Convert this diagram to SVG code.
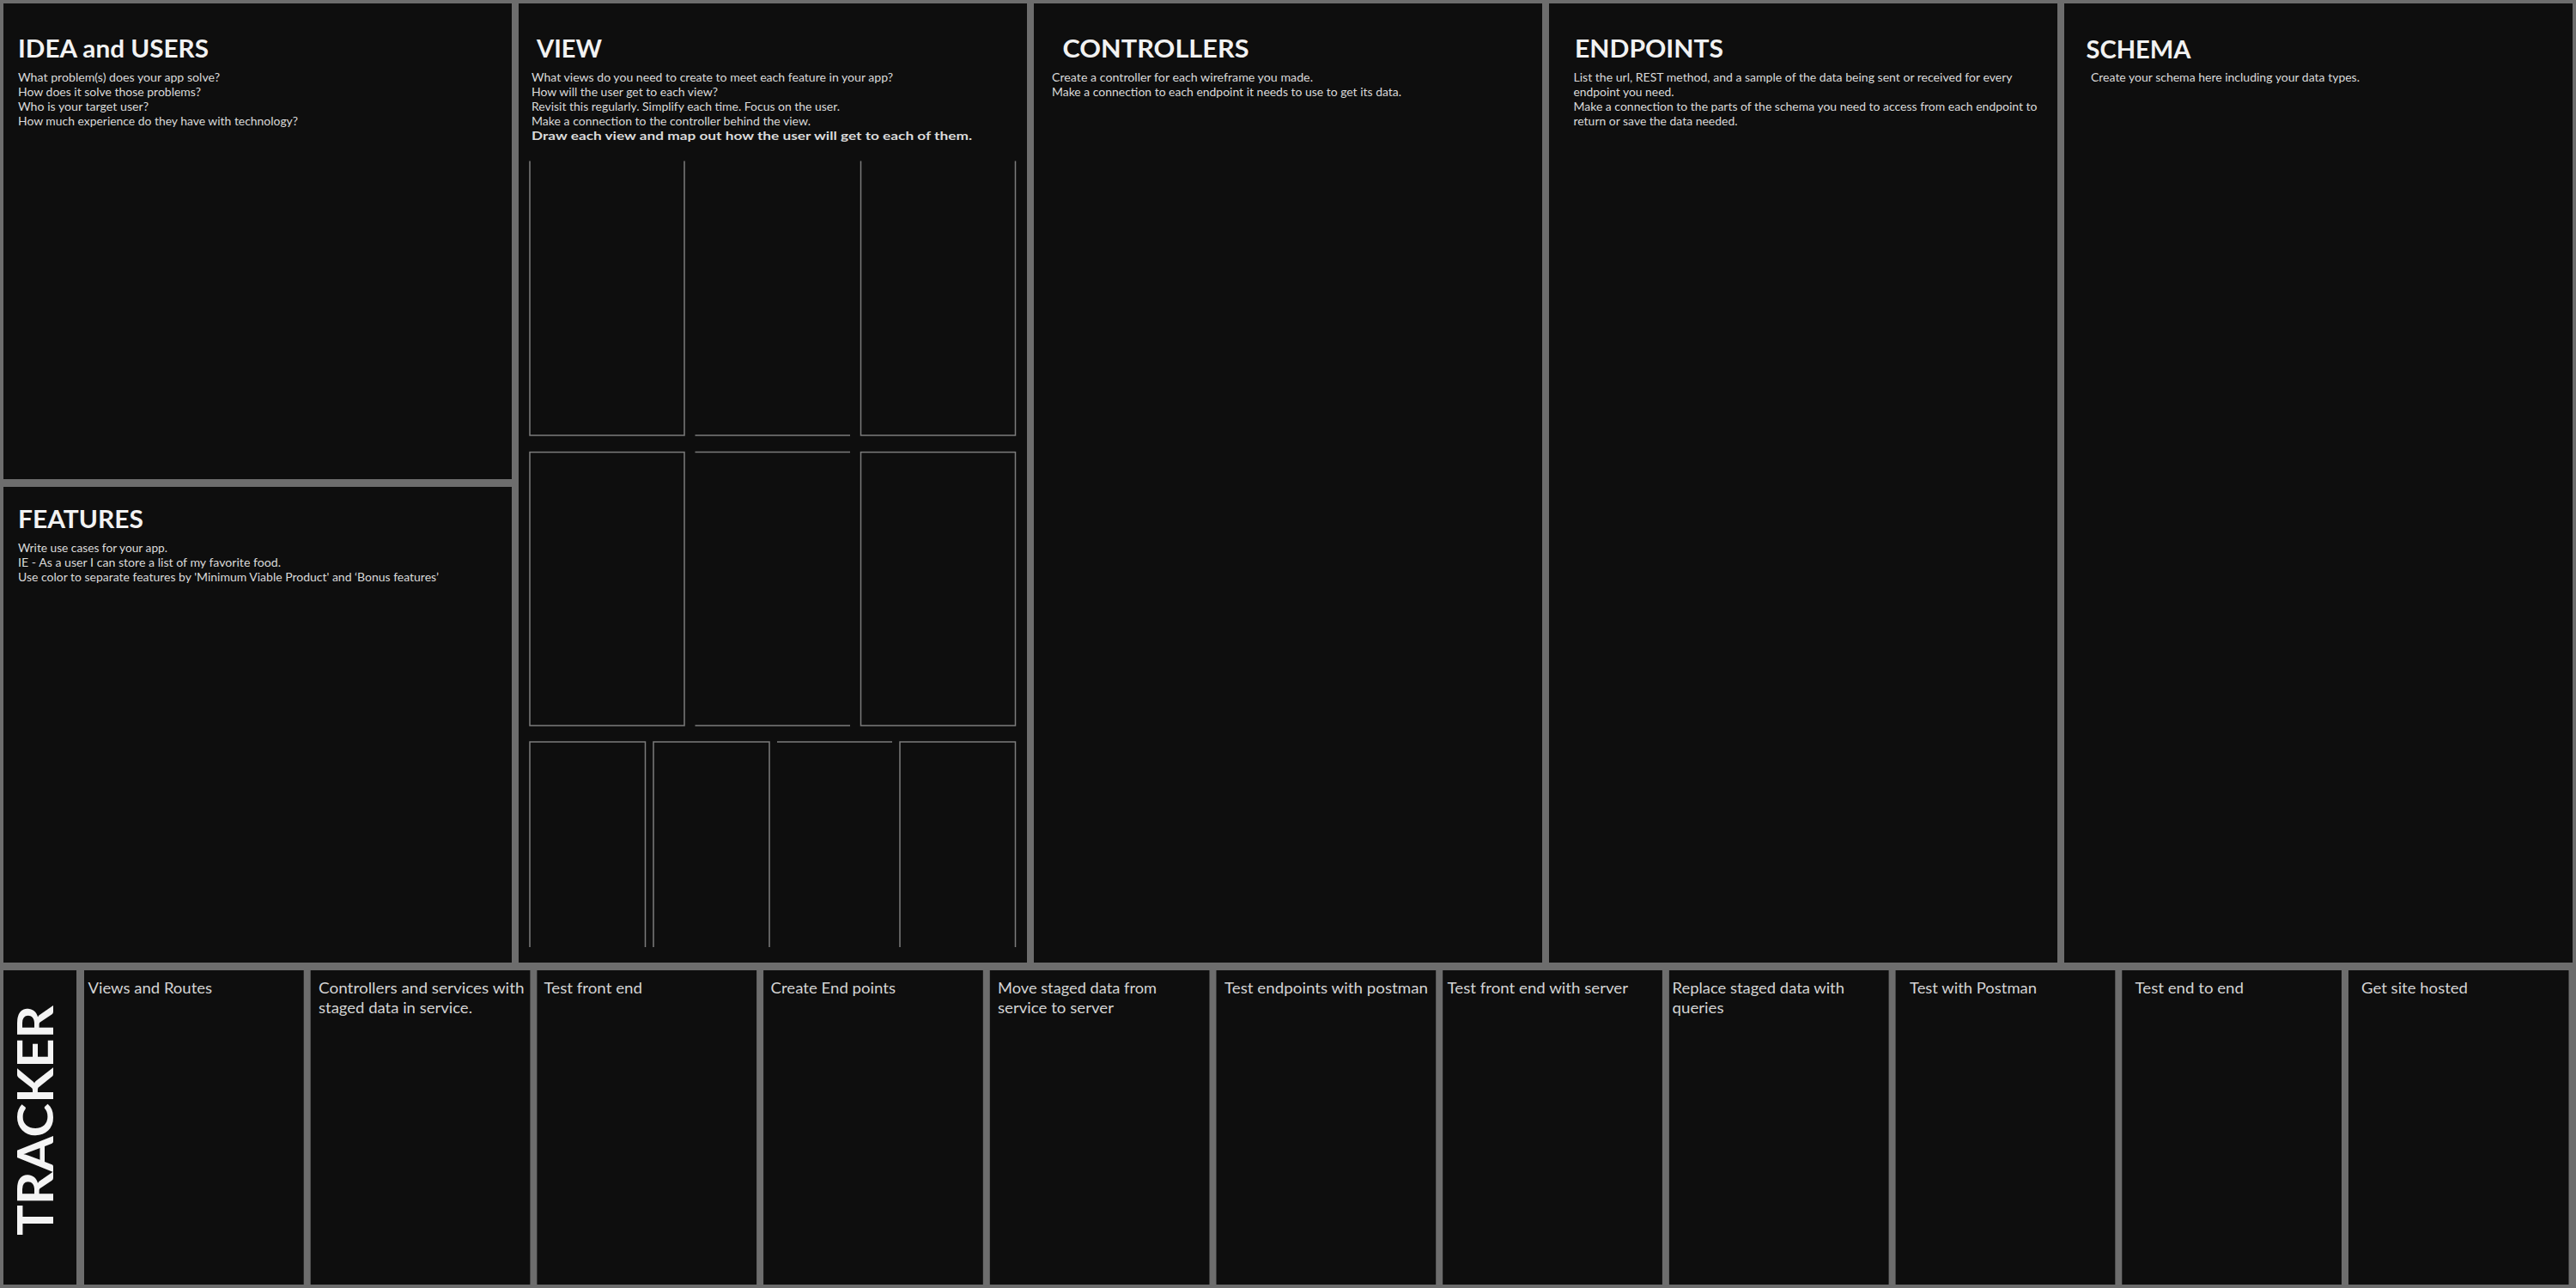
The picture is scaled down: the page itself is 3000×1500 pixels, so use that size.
<svg xmlns="http://www.w3.org/2000/svg" width="3000" height="1500" viewBox="0 0 3000 1500">
<style>
.bg{fill:#6d6d6d}
.panel{fill:#0e0e0e}
.title{font-family:Lato,"Liberation Sans",sans-serif;font-size:29px;font-weight:700;fill:#f2f2f2}
.body{font-family:Lato,"Liberation Sans",sans-serif;font-size:13px;font-weight:400;fill:#dadada}
.bold{font-weight:700}
.lbl{font-family:Lato,"Liberation Sans",sans-serif;font-size:18px;font-weight:400;fill:#d4d4d4}
.tracker{font-family:Lato,"Liberation Sans",sans-serif;font-size:58px;font-weight:700;fill:#f4f4f4}
.wf{fill:none;stroke:#7c7c7c;stroke-width:1.5}
</style>
<rect class="bg" x="0" y="0" width="3000" height="1500"/>

<g id="idea">
<rect class="panel" x="4" y="4" width="592" height="554"/>
<text class="title" x="21" y="67" textLength="222" lengthAdjust="spacingAndGlyphs">IDEA and USERS</text>
<text class="body" x="21" y="94.5" textLength="235" lengthAdjust="spacingAndGlyphs">What problem(s) does your app solve?</text>
<text class="body" x="21" y="111.6" textLength="213" lengthAdjust="spacingAndGlyphs">How does it solve those problems?</text>
<text class="body" x="21" y="128.7" textLength="152" lengthAdjust="spacingAndGlyphs">Who is your target user?</text>
<text class="body" x="21" y="145.8" textLength="326" lengthAdjust="spacingAndGlyphs">How much experience do they have with technology?</text>
</g>

<g id="features">
<rect class="panel" x="4" y="567" width="592" height="554"/>
<text class="title" x="21" y="615" textLength="146" lengthAdjust="spacingAndGlyphs">FEATURES</text>
<text class="body" x="21" y="643" textLength="174" lengthAdjust="spacingAndGlyphs">Write use cases for your app.</text>
<text class="body" x="21" y="660" textLength="306" lengthAdjust="spacingAndGlyphs">IE - As a user I can store a list of my favorite food.</text>
<text class="body" x="21" y="677" textLength="490" lengthAdjust="spacingAndGlyphs">Use color to separate features by 'Minimum Viable Product' and ‘Bonus features’</text>
</g>

<g id="view">
<rect class="panel" x="604" y="4" width="592" height="1117"/>
<text class="title" x="625" y="67" textLength="76" lengthAdjust="spacingAndGlyphs">VIEW</text>
<text class="body" x="619" y="94.5" textLength="421" lengthAdjust="spacingAndGlyphs">What views do you need to create to meet each feature in your app?</text>
<text class="body" x="619" y="111.6" textLength="217" lengthAdjust="spacingAndGlyphs">How will the user get to each view?</text>
<text class="body" x="619" y="128.7" textLength="359" lengthAdjust="spacingAndGlyphs">Revisit this regularly. Simplify each time. Focus on the user.</text>
<text class="body" x="619" y="145.8" textLength="325" lengthAdjust="spacingAndGlyphs">Make a connection to the controller behind the view.</text>
<text class="body bold" x="619" y="162.9" textLength="513" lengthAdjust="spacingAndGlyphs">Draw each view and map out how the user will get to each of them.</text>
<g id="view-wireframes">
<path class="wf" d="M617,187.5 V507 H797 V187.5"/>
<path class="wf" d="M809.5,507 H990"/>
<path class="wf" d="M1002.5,187.5 V507 H1182.5 V187.5"/>
<rect class="wf" x="617" y="526.6" width="180" height="318.4"/>
<path class="wf" d="M809.5,526.6 H990 M809.5,845 H990"/>
<rect class="wf" x="1002.5" y="526.6" width="180" height="318.4"/>
<path class="wf" d="M617,1103 V864 H751.5 V1103"/>
<path class="wf" d="M761,1103 V864 H896 V1103"/>
<path class="wf" d="M905,864 H1039"/>
<path class="wf" d="M1048,1103 V864 H1182.5 V1103"/>
</g>
</g>

<g id="controllers">
<rect class="panel" x="1204" y="4" width="592" height="1117"/>
<text class="title" x="1237.5" y="67" textLength="217" lengthAdjust="spacingAndGlyphs">CONTROLLERS</text>
<text class="body" x="1225" y="94.5" textLength="304" lengthAdjust="spacingAndGlyphs">Create a controller for each wireframe you made.</text>
<text class="body" x="1225" y="111.6" textLength="407" lengthAdjust="spacingAndGlyphs">Make a connection to each endpoint it needs to use to get its data.</text>
</g>

<g id="endpoints">
<rect class="panel" x="1804" y="4" width="592" height="1117"/>
<text class="title" x="1834" y="67" textLength="173" lengthAdjust="spacingAndGlyphs">ENDPOINTS</text>
<text class="body" x="1832.5" y="94.5" textLength="511" lengthAdjust="spacingAndGlyphs">List the url, REST method, and a sample of the data being sent or received for every</text>
<text class="body" x="1832.5" y="111.6" textLength="117" lengthAdjust="spacingAndGlyphs">endpoint you need.</text>
<text class="body" x="1832.5" y="128.7" textLength="540" lengthAdjust="spacingAndGlyphs">Make a connection to the parts of the schema you need to access from each endpoint to</text>
<text class="body" x="1832.5" y="145.8" textLength="191" lengthAdjust="spacingAndGlyphs">return or save the data needed.</text>
</g>

<g id="schema">
<rect class="panel" x="2404" y="4" width="592" height="1117"/>
<text class="title" x="2429.5" y="67.5" textLength="122" lengthAdjust="spacingAndGlyphs">SCHEMA</text>
<text class="body" x="2435" y="94.5" textLength="313" lengthAdjust="spacingAndGlyphs">Create your schema here including your data types.</text>
</g>

<g id="tracker">
<rect class="panel" x="4" y="1130" width="85" height="366"/>
<text class="tracker" transform="translate(62,1439) rotate(-90)" textLength="268" lengthAdjust="spacingAndGlyphs">TRACKER</text>
</g>

<g id="task-views-routes">
<rect class="panel" x="98" y="1130" width="255.7" height="366"/>
<text class="lbl" x="102.5" y="1157" textLength="144.5" lengthAdjust="spacingAndGlyphs">Views and Routes</text>
</g>
<g id="task-controllers-services">
<rect class="panel" x="361.7" y="1130" width="255.7" height="366"/>
<text class="lbl" x="371" y="1157" textLength="239.5" lengthAdjust="spacingAndGlyphs">Controllers and services with</text>
<text class="lbl" x="371" y="1180" textLength="179" lengthAdjust="spacingAndGlyphs">staged data in service.</text>
</g>
<g id="task-test-front-end">
<rect class="panel" x="625.4" y="1130" width="255.7" height="366"/>
<text class="lbl" x="633.5" y="1157" textLength="114.5" lengthAdjust="spacingAndGlyphs">Test front end</text>
</g>
<g id="task-create-endpoints">
<rect class="panel" x="889.1" y="1130" width="255.7" height="366"/>
<text class="lbl" x="897.6" y="1157" textLength="145.4" lengthAdjust="spacingAndGlyphs">Create End points</text>
</g>
<g id="task-move-staged-data">
<rect class="panel" x="1152.8" y="1130" width="255.7" height="366"/>
<text class="lbl" x="1162" y="1157" textLength="185" lengthAdjust="spacingAndGlyphs">Move staged data from</text>
<text class="lbl" x="1162" y="1180" textLength="135" lengthAdjust="spacingAndGlyphs">service to server</text>
</g>
<g id="task-test-endpoints-postman">
<rect class="panel" x="1416.5" y="1130" width="255.7" height="366"/>
<text class="lbl" x="1426" y="1157" textLength="237" lengthAdjust="spacingAndGlyphs">Test endpoints with postman</text>
</g>
<g id="task-test-front-end-server">
<rect class="panel" x="1680.2" y="1130" width="255.7" height="366"/>
<text class="lbl" x="1685.6" y="1157" textLength="210.4" lengthAdjust="spacingAndGlyphs">Test front end with server</text>
</g>
<g id="task-replace-staged-data">
<rect class="panel" x="1943.9" y="1130" width="255.7" height="366"/>
<text class="lbl" x="1947.5" y="1157" textLength="200.5" lengthAdjust="spacingAndGlyphs">Replace staged data with</text>
<text class="lbl" x="1947.5" y="1180" textLength="60" lengthAdjust="spacingAndGlyphs">queries</text>
</g>
<g id="task-test-postman">
<rect class="panel" x="2207.6" y="1130" width="255.7" height="366"/>
<text class="lbl" x="2224" y="1157" textLength="148" lengthAdjust="spacingAndGlyphs">Test with Postman</text>
</g>
<g id="task-test-end-to-end">
<rect class="panel" x="2471.3" y="1130" width="255.7" height="366"/>
<text class="lbl" x="2486.6" y="1157" textLength="126.4" lengthAdjust="spacingAndGlyphs">Test end to end</text>
</g>
<g id="task-get-site-hosted">
<rect class="panel" x="2735" y="1130" width="256.5" height="366"/>
<text class="lbl" x="2750" y="1157" textLength="124" lengthAdjust="spacingAndGlyphs">Get site hosted</text>
</g>

<g id="connectors"/>
</svg>
